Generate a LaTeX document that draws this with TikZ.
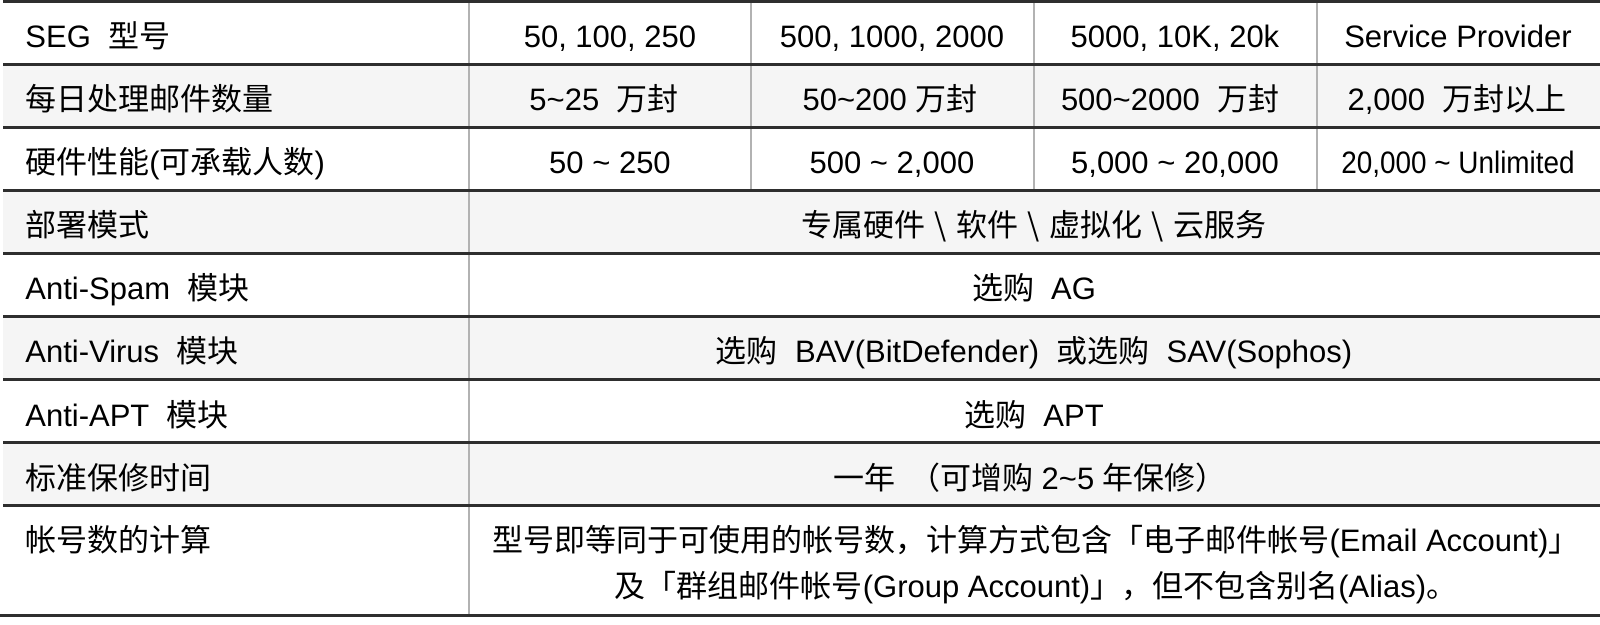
\documentclass[tikz,border=0pt]{standalone}
\usepackage{fontspec}
\usepackage{graphicx}
\setmainfont{Liberation Sans}
\newfontfamily\cjk{Noto Sans CJK SC}
\newcommand{\zh}[1]{{\cjk #1}}
\newcommand{\tld}{\textasciitilde}
\newcommand{\bsep}{\makebox[1em]{\textbackslash}}

\tikzset{
  cell/.style={font=\fontsize{15.5}{23}\selectfont, inner sep=0pt, anchor=base},
  lcell/.style={cell, anchor=base west},
  rowfill/.style={fill=black!4},
  rowline/.style={line width=1.1pt, draw=black!82},
  edgeline/.style={line width=1.6pt, draw=black!82},
  colline/.style={line width=0.9pt, draw=black!30}
}

\begin{document}
\begin{tikzpicture}[x=0.5pt, y=-0.5pt]
\useasboundingbox (0,0) rectangle (1600,625);

% shaded rows
\foreach \y in {64.5,190.5,316.5,442.5}
  \fill[rowfill] (3,\y) rectangle (1600,\y+63);

% column rules
\draw[colline] (469,1.5)--(469,615.5);
\foreach \x in {751,1034,1317}
  \draw[colline] (\x,1.5)--(\x,190.5);

% row rules
\draw[edgeline] (3,1.5)--(1600,1.5);
\foreach \y in {64.5,127.5,190.5,253.5,316.5,379.5,442.5,505.5}
  \draw[rowline] (3,\y)--(1600,\y);
\draw[edgeline] (0,615.5)--(1600,615.5);

% left column (base lines)
\node[lcell] (model)   at (25,48)  {SEG~~\zh{型号}};
\node[lcell] (mails)   at (25,111) {\zh{每日处理邮件数量}};
\node[lcell] (users)   at (25,174) {\zh{硬件性能}(\zh{可承载人数})};
\node[lcell] (deploy)  at (25,237) {\zh{部署模式}};
\node[lcell] (spam)    at (25,300) {Anti-Spam~~\zh{模块}};
\node[lcell] (virus)   at (25,363) {Anti-Virus~~\zh{模块}};
\node[lcell] (apt)     at (25,426) {Anti-APT~~\zh{模块}};
\node[lcell] (warrant) at (25,489) {\zh{标准保修时间}};
\node[lcell] (account) at (25,551) {\zh{帐号数的计算}};

% model columns
\node[cell] (modelA) at (610,48)  {50, 100, 250};
\node[cell] (modelB) at (892,48)  {500, 1000, 2000};
\node[cell] (modelC) at (1175,48) {5000, 10K, 20k};
\node[cell] (modelD) at (1458,48) {Service Provider};

\node[cell] (mailsA) at (604,111)  {5\tld25~~\zh{万封}};
\node[cell] (mailsB) at (890,111)  {50\tld200 \zh{万封}};
\node[cell] (mailsC) at (1170,111) {500\tld2000~~\zh{万封}};
\node[cell] (mailsD) at (1457,111) {2,000~~\zh{万封以上}};

\node[cell] (usersA) at (610,174)  {50 \tld{} 250};
\node[cell] (usersB) at (892,174)  {500 \tld{} 2,000};
\node[cell] (usersC) at (1175,174) {5,000 \tld{} 20,000};
\node[cell] (usersD) at (1458,174) {\scalebox{0.9}[1]{20,000 \tld{} Unlimited}};

% spanning cells
\node[cell] (deployAll)  at (1034,237) {\zh{专属硬件\bsep 软件\bsep 虚拟化\bsep 云服务}};
\node[cell] (spamAll)    at (1034,300) {\zh{选购}~~AG};
\node[cell] (virusAll)   at (1034,363) {\zh{选购}~~BAV(BitDefender)~~\zh{或选购}~~SAV(Sophos)};
\node[cell] (aptAll)     at (1034,426) {\zh{选购}~~APT};
\node[cell] (warrantAll) at (1030,489) {\zh{一年~~（可增购} 2\tld5 \zh{年保修）}};
\node[cell] (accountA)   at (1036,551) {\zh{型号即等同于可使用的帐号数，计算方式包含「电子邮件帐号}(Email Account)\zh{」}};
\node[cell] (accountB)   at (1036,597) {\zh{及「群组邮件帐号}(Group Account)\zh{」，但不包含别名}(Alias)\zh{。}};
\end{tikzpicture}
\end{document}
